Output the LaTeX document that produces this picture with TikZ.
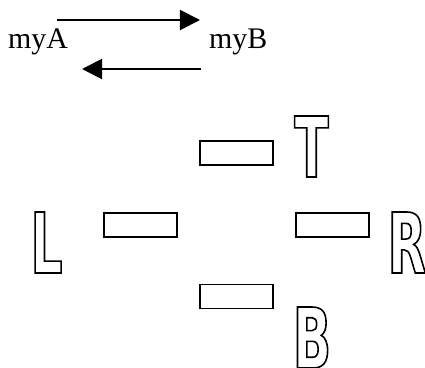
\documentclass[tikz,border=0pt]{standalone}
\usepackage{fontspec}
\setmainfont{Liberation Serif}
\newfontfamily\outlinefont[FakeStretch=0.6]{DejaVu Sans Bold}
\usetikzlibrary{arrows.meta}
\newcommand{\outlined}[1]{\special{pdf:literal direct 1 Tr 1.6 w}#1\special{pdf:literal direct 0 Tr}}
\tikzset{
  lbl/.style={inner sep=0pt, anchor=base west, font=\fontsize{30}{30}\selectfont},
  bigletter/.style={inner sep=0pt, anchor=base, font=\outlinefont\fontsize{84}{84}\selectfont},
  bar/.style={draw, line width=1.3bp, minimum width=73bp, minimum height=24bp, inner sep=0pt},
  arr/.style={line width=2bp, -{Triangle[length=20bp,width=20bp]}}
}
\begin{document}
\begin{tikzpicture}[x=1bp,y=-1bp]
\clip (0,0) rectangle (425,368);
\node[lbl] (myA) at (8,48) {myA};
\node[lbl] (myB) at (209,48) {myB};
\coordinate (a1) at (57,20);
\coordinate (a2) at (200,20);
\coordinate (b1) at (201,69);
\coordinate (b2) at (82,69);
\draw[arr] (a1) -- (a2);
\draw[arr] (b1) -- (b2);
\node[bar] (rt) at (236.5,153) {};
\node[bar] (rl) at (140.5,225) {};
\node[bar] (rr) at (332.5,225) {};
\node[bar] (rb) at (236.5,296.5) {};
\node[bigletter] (T) at (311.5,177) {\outlined{T}};
\node[bigletter] (L) at (46.5,273) {\outlined{L}};
\node[bigletter] (R) at (407,273) {\outlined{R}};
\node[bigletter] (B) at (312,368) {\outlined{B}};
\end{tikzpicture}
\end{document}
